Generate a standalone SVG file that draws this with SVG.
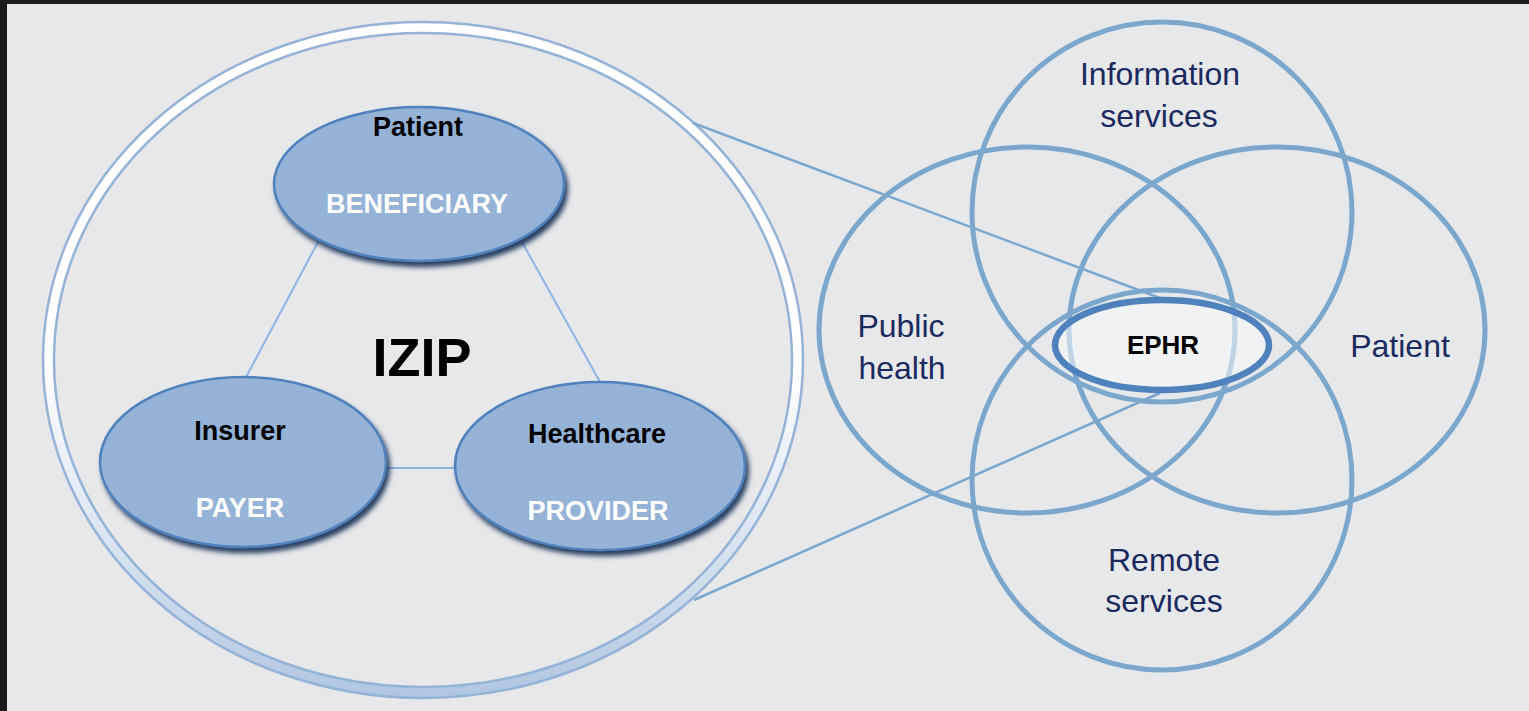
<svg xmlns="http://www.w3.org/2000/svg" width="1529" height="711" viewBox="0 0 1529 711">
<defs>
<linearGradient id="ringGrad" x1="0" y1="0" x2="0" y2="1">
<stop offset="0" stop-color="#ffffff"/>
<stop offset="0.5" stop-color="#ffffff"/>
<stop offset="0.8" stop-color="#d6e1ef"/>
<stop offset="1" stop-color="#b0c6e1"/>
</linearGradient>
<filter id="shadow" x="-10%" y="-10%" width="125%" height="130%">
<feDropShadow dx="3" dy="5" stdDeviation="2.5" flood-color="#1a355a" flood-opacity="0.95"/>
</filter>
</defs>
<style>
.bg{fill:#e7e8ea}
.frame{fill:#1c1c1c}
.node{fill:#95b3d7;stroke:#4f81bd;stroke-width:2.5;filter:url(#shadow)}
.lbl{font-family:"Liberation Sans",Arial,sans-serif;font-weight:bold;text-anchor:middle}
.blk{fill:#000000;font-size:27px}
.wht{fill:#ffffff;font-size:27px}
.venn{fill:none;stroke:#7ba7cd;stroke-width:5}
.vtxt{font-family:"Liberation Sans",Arial,sans-serif;font-size:32px;fill:#1b2a5e;text-anchor:middle}
.link{stroke:#8db3e2;stroke-width:2;fill:none}
.zoom{stroke:#7ba7cd;stroke-width:2.5;fill:none}
</style>
<rect class="bg" x="0" y="0" width="1529" height="711"/>
<rect class="frame" x="0" y="0" width="1529" height="4"/>
<rect class="frame" x="0" y="0" width="7" height="711"/>

<g id="izip-ring">
<path d="M43,360 a380,338 0 1,0 760,0 a380,338 0 1,0 -760,0 Z M54,360 a369,327 0 1,0 738,0 a369,327 0 1,0 -738,0 Z" fill="url(#ringGrad)" fill-rule="evenodd" stroke="#95b3d7" stroke-width="2.5"/>
<text class="lbl" x="422" y="376" font-size="54" fill="#000">IZIP</text>
</g>

<g id="connectors">
<line class="link" x1="318" y1="242" x2="244" y2="381"/>
<line class="link" x1="522" y1="242" x2="600" y2="382"/>
<line class="link" x1="385" y1="468" x2="456" y2="468"/>
<line class="zoom" x1="693" y1="123" x2="1160" y2="298"/>
<line class="zoom" x1="694" y1="600" x2="1160" y2="393"/>
</g>

<g id="node-patient">
<ellipse class="node" cx="419" cy="184" rx="145" ry="77"/>
<text class="lbl blk" x="418" y="136">Patient</text>
<text class="lbl wht" x="417" y="213">BENEFICIARY</text>
</g>
<g id="node-insurer">
<ellipse class="node" cx="243" cy="462" rx="143" ry="85"/>
<text class="lbl blk" x="240" y="440">Insurer</text>
<text class="lbl wht" x="240" y="517">PAYER</text>
</g>
<g id="node-healthcare">
<ellipse class="node" cx="600" cy="466" rx="145" ry="84"/>
<text class="lbl blk" x="597" y="443">Healthcare</text>
<text class="lbl wht" x="598" y="520">PROVIDER</text>
</g>

<g id="venn-information">
<ellipse class="venn" cx="1162" cy="212" rx="190" ry="190"/>
<text class="vtxt" x="1160" y="85">Information</text>
<text class="vtxt" x="1159" y="127">services</text>
</g>
<g id="venn-public">
<ellipse class="venn" cx="1027" cy="330" rx="208" ry="183"/>
<text class="vtxt" x="901" y="337">Public</text>
<text class="vtxt" x="902" y="379">health</text>
</g>
<g id="venn-patient">
<ellipse class="venn" cx="1277" cy="330" rx="208" ry="183"/>
<text class="vtxt" x="1400" y="357">Patient</text>
</g>
<g id="venn-remote">
<ellipse class="venn" cx="1162" cy="480" rx="190" ry="190"/>
<text class="vtxt" x="1164" y="571">Remote</text>
<text class="vtxt" x="1164" y="612">services</text>
</g>
<g id="node-ephr">
<ellipse cx="1162" cy="345" rx="107" ry="45" fill="#fafafa" fill-opacity="0.55" stroke="#4f81bd" stroke-width="6.5"/>
<text class="lbl" x="1163" y="354" font-size="26" fill="#000">EPHR</text>
</g>
</svg>
